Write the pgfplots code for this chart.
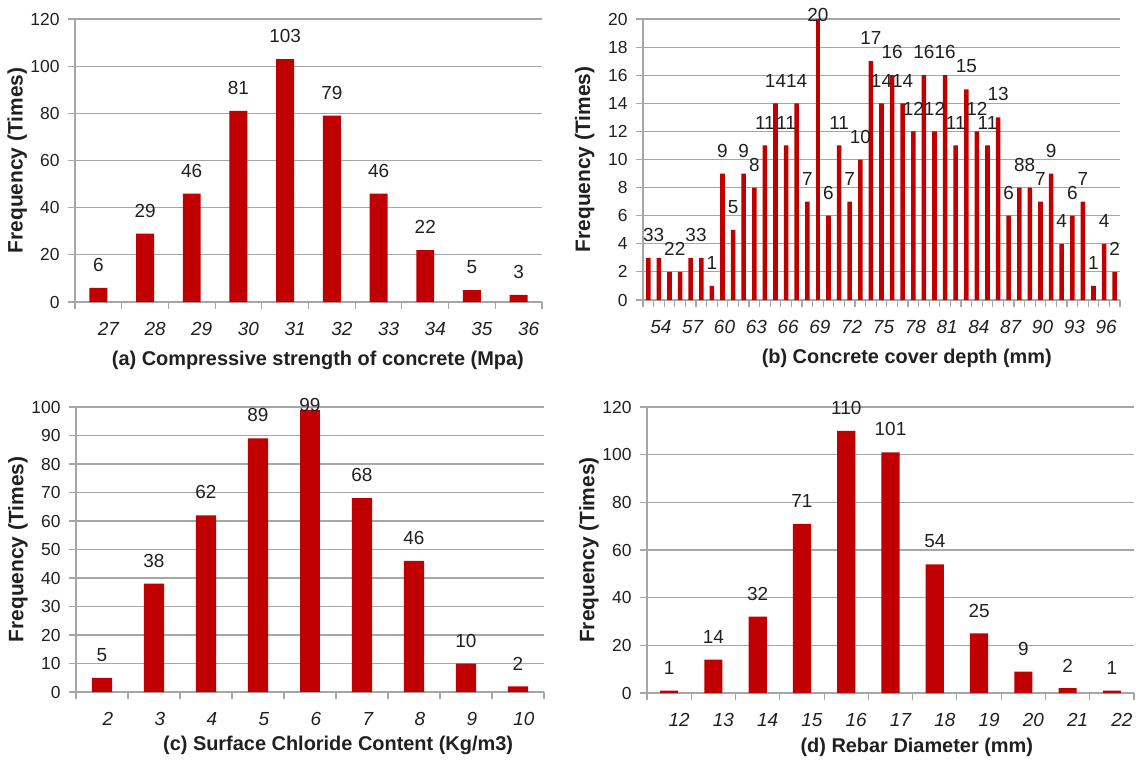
\documentclass[border=0pt]{standalone}
\usepackage{fontspec}
\setmainfont{Liberation Sans}
\usepackage{pgfplots}
\pgfplotsset{compat=1.18}
\definecolor{barred}{HTML}{C00000}
\definecolor{gridgray}{HTML}{A6A6A6}
\definecolor{txt}{HTML}{202020}
\pgfplotsset{
  panel/.style={
    scale only axis,
    axis x line*=bottom, axis y line*=left,
    axis line style={gridgray, line width=1.1bp},
    ymin=0,
    ymajorgrids, major grid style={gridgray, line width=1.1bp},
    tick style={gridgray, line width=1.1bp},
    major tick length=7bp,
    tick align=outside,
    x tick label as interval,
    clip=false,
    /pgf/number format/assume math mode=true,
    yticklabel style={font=\fontsize{17.5}{17.5}\selectfont, text=txt, xshift=-5bp},
    xticklabel style={font=\fontsize{19}{19}\selectfont\itshape, text=txt, inner sep=0pt, yshift=-13bp},
    ylabel={Frequency (Times)},
    ylabel style={font=\fontsize{21}{21}\selectfont\bfseries, text=txt, anchor=center},
    xlabel style={font=\fontsize{20}{20}\selectfont\bfseries, text=txt, anchor=center},
  },
  bars/.style={ybar, bar shift=0pt, fill=barred, draw=none,
      nodes near coords,
      every node near coord/.append style={font=\fontsize{19}{19}\selectfont, text=txt, inner sep=0pt, yshift=#1}},
  bars/.default=16bp,
}
\begin{document}
\begin{tikzpicture}
\useasboundingbox (0,0) rectangle (1136bp,-760bp);
% (a)
\begin{axis}[panel, at={(75bp,-302bp)}, anchor=south west,
  width=467bp, height=283bp,
  xmin=26.5, xmax=36.5, ymax=120, ytick={0,20,...,120},
  xtick={26.5,27.5,...,36.5}, xticklabels={27,28,29,30,31,32,33,34,35,36},
  xticklabel style={xshift=10bp},
  xlabel={(a) Compressive strength of concrete (Mpa)},
  xlabel style={at={(axis description cs:0.52,-0.205)}},
  ylabel style={at={(axis description cs:-0.124,0.5)}}]
\addplot[bars, bar width=0.385] coordinates {(27,6) (28,29) (29,46) (30,81) (31,103) (32,79) (33,46) (34,22) (35,5) (36,3)};
\end{axis}
% (b)
\begin{axis}[panel, at={(643bp,-300bp)}, anchor=south west,
  width=477bp, height=281bp,
  xmin=52.5, xmax=97.5, ymax=20, ytick={0,2,...,20},
  xtick={52.5,53.5,...,97.5},
  xticklabels={,54,,,57,,,60,,,63,,,66,,,69,,,72,,,75,,,78,,,81,,,84,,,87,,,90,,,93,,,96,},
  xticklabel style={xshift=2bp},
  xlabel={(b) Concrete cover depth (mm)},
  xlabel style={at={(axis description cs:0.553,-0.206)}},
  ylabel style={at={(axis description cs:-0.122,0.5)}}]
\addplot[bars, bar width=0.43] coordinates {(53,3) (54,3) (55,2) (56,2) (57,3) (58,3) (59,1) (60,9) (61,5) (62,9)
 (63,8) (64,11) (65,14) (66,11) (67,14) (68,7) (70,6) (71,11) (72,7) (73,10) (74,17)
 (75,14) (76,16) (77,14) (78,12) (79,16) (80,12) (81,16) (82,11) (83,15) (84,12) (85,11) (86,13)
 (87,6) (88,8) (89,8) (90,7) (91,9) (92,4) (93,6) (94,7) (95,1) (96,4) (97,2)};
\addplot[bars=-3bp, bar width=0.43] coordinates {(69,20)};
\end{axis}
% (c)
\begin{axis}[panel, at={(76bp,-692bp)}, anchor=south west,
  width=468bp, height=285bp,
  xmin=1.5, xmax=10.5, ymax=100, ytick={0,10,...,100},
  xtick={1.5,2.5,...,10.5}, xticklabels={2,3,4,5,6,7,8,9,10},
  xticklabel style={xshift=6bp},
  xlabel={(c) Surface Chloride Content (Kg/m3)},
  xlabel style={at={(axis description cs:0.56,-0.186)}},
  ylabel style={at={(axis description cs:-0.124,0.5)}}]
\addplot[bars, bar width=0.39] coordinates {(2,5) (3,38) (4,62) (5,89) (7,68) (8,46) (9,10) (10,2)};
\addplot[bars=-2bp, bar width=0.39] coordinates {(6,99)};
\end{axis}
% (d)
\begin{axis}[panel, at={(647bp,-693bp)}, anchor=south west,
  width=487bp, height=286bp,
  xmin=11.5, xmax=22.5, ymax=120, ytick={0,20,...,120},
  xtick={11.5,12.5,...,22.5}, xticklabels={12,13,14,15,16,17,18,19,20,21,22},
  xticklabel style={xshift=10bp},
  xlabel={(d) Rebar Diameter (mm)},
  xlabel style={at={(axis description cs:0.554,-0.189)}},
  ylabel style={at={(axis description cs:-0.119,0.5)}}]
\addplot[bars, bar width=0.41] coordinates {(12,1) (13,14) (14,32) (15,71) (16,110) (17,101) (18,54) (19,25) (20,9) (21,2) (22,1)};
\end{axis}
\end{tikzpicture}
\end{document}
